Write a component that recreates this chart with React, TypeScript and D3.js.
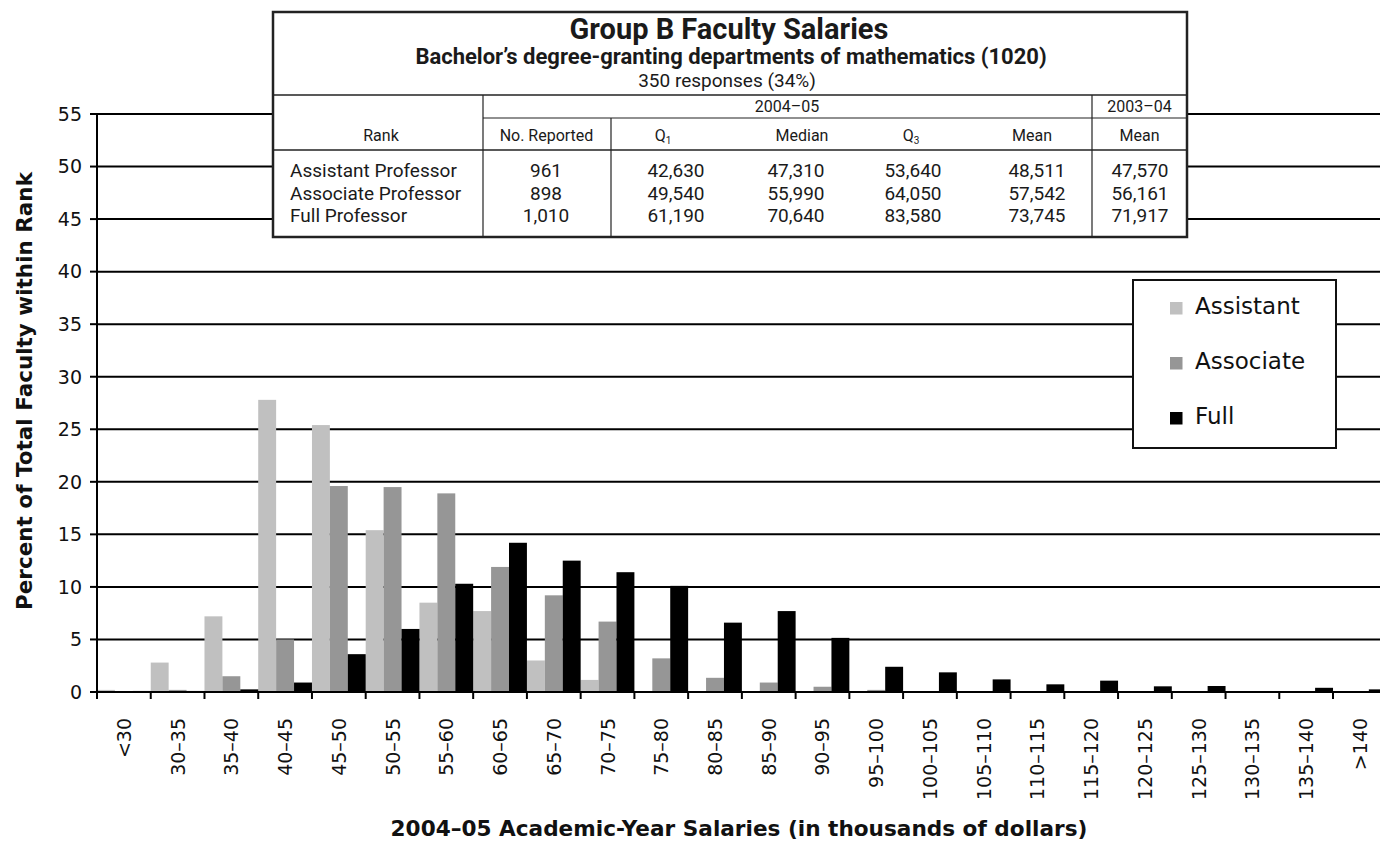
import React from 'react';
import * as d3 from 'd3';

const categories = ['<30', '30\u201335', '35\u201340', '40\u201345', '45\u201350', '50\u201355', '55\u201360', '60\u201365', '65\u201370', '70\u201375', '75\u201380', '80\u201385', '85\u201390', '90\u201395', '95\u2013100', '100\u2013105', '105\u2013110', '110\u2013115', '115\u2013120', '120\u2013125', '125\u2013130', '130\u2013135', '135\u2013140', '>140'];
const assistant = [0.2, 2.8, 7.2, 27.8, 25.4, 15.4, 8.5, 7.7, 3.0, 1.15, 0, 0, 0, 0, 0, 0, 0, 0, 0, 0, 0, 0, 0, 0];
const associate = [0, 0.2, 1.5, 5.0, 19.6, 19.5, 18.9, 11.9, 9.2, 6.7, 3.2, 1.35, 0.9, 0.5, 0.2, 0, 0, 0, 0, 0, 0, 0, 0, 0];
const full = [0.1, 0.1, 0.25, 0.9, 3.6, 6.0, 10.3, 14.2, 12.5, 11.4, 10.1, 6.6, 7.7, 5.15, 2.4, 1.87, 1.2, 0.73, 1.08, 0.54, 0.57, 0, 0.4, 0.25];
const seriesNames = ['Assistant', 'Associate', 'Full'];
const seriesColors = ['#c0c0c0', '#969696', '#000000'];
const yTicks = [0, 5, 10, 15, 20, 25, 30, 35, 40, 45, 50, 55];

const rankLabels = ['Assistant Professor', 'Associate Professor', 'Full Professor'];
const noReported = ['961', '898', '1,010'];
const q1 = ['42,630', '49,540', '61,190'];
const median = ['47,310', '55,990', '70,640'];
const q3 = ['53,640', '64,050', '83,580'];
const mean0405 = ['48,511', '57,542', '73,745'];
const mean0304 = ['47,570', '56,161', '71,917'];

const W = 1380;
const H = 841;
const X0 = 97;
const BAND = 53.74;

export default function App() {
  const x = d3.scaleBand<string>().domain(categories).range([X0, X0 + BAND * categories.length]).paddingInner(0).paddingOuter(0);
  const xs = d3.scaleBand<string>().domain(seriesNames).range([0, x.bandwidth()]).padding(0);
  const y = d3.scaleLinear().domain([0, 55]).range([692, 114]);
  const series = [assistant, associate, full];
  const chartFont = "'DejaVu Sans', Verdana, sans-serif";
  const tableFont = "Roboto, 'Liberation Sans', sans-serif";
  const txt = '#111';
  const dataCols = [noReported, q1, median, q3, mean0405, mean0304];
  const dataX = [546, 676, 796, 913, 1037, 1140];
  const rowY = [177, 199.5, 222];

  return (
    <svg width={W} height={H} style={{ position: 'absolute', left: 0, top: 0, background: '#fff' }}>
      <rect x={0} y={0} width={W} height={H} fill="#fff" />
      {/* gridlines */}
      {yTicks.filter(t => t > 0).map(t => (
        <line key={'g' + t} x1={X0} x2={W} y1={y(t)} y2={y(t)} stroke="#000" strokeWidth={2} />
      ))}
      {/* bars */}
      {series.map((vals, si) => (
        <g key={'s' + si} fill={seriesColors[si]}>
          {categories.map((c, i) => (
            vals[i] > 0 ? (
              <rect key={c} x={(x(c) as number) + (xs(seriesNames[si]) as number)} width={xs.bandwidth()}
                y={y(vals[i])} height={y(0) - y(vals[i])} />
            ) : null
          ))}
        </g>
      ))}
      {/* axes */}
      <line x1={X0} x2={X0} y1={y(55) - 1} y2={699} stroke="#000" strokeWidth={2} />
      <line x1={X0} x2={W} y1={y(0)} y2={y(0)} stroke="#000" strokeWidth={2} />
      {yTicks.map(t => (
        <g key={'yt' + t}>
          <line x1={90} x2={X0} y1={y(t)} y2={y(t)} stroke="#000" strokeWidth={2} />
          <text x={82} y={y(t)} dy="0.36em" textAnchor="end" fontFamily={chartFont} fontSize={19} fill={txt}>{t}</text>
        </g>
      ))}
      {categories.map((c, i) => (
        <line key={'xt' + i} x1={x(c) as number} x2={x(c) as number} y1={y(0)} y2={699} stroke="#000" strokeWidth={2} />
      ))}
      {categories.map(c => {
        const cx = (x(c) as number) + x.bandwidth() / 2 + 7;
        return (
          <text key={'xl' + c} transform={`translate(${cx},718) rotate(-90)`} textAnchor="end"
            fontFamily={chartFont} fontSize={19} fill={txt}>{c}</text>
        );
      })}
      <text transform="translate(31.5,391) rotate(-90)" textAnchor="middle" fontFamily={chartFont}
        fontWeight="bold" fontSize={21.5} fill={txt}>Percent of Total Faculty within Rank</text>
      <text x={739} y={836} textAnchor="middle" fontFamily={chartFont} fontWeight="bold" fontSize={21.6}
        fill={txt}>2004–05 Academic-Year Salaries (in thousands of dollars)</text>

      {/* legend */}
      <rect x={1133} y={280} width={203} height={168} fill="#fff" stroke="#111" strokeWidth={2} />
      {seriesNames.map((n, i) => (
        <g key={'lg' + n}>
          <rect x={1170} y={302 + i * 55} width={12.5} height={12.5} fill={seriesColors[i]} />
          <text x={1195} y={313.5 + i * 55} fontFamily={chartFont} fontSize={23} fill={txt}>{n}</text>
        </g>
      ))}

      {/* table */}
      <g fontFamily={tableFont} fill="#1a1a1a">
        <rect x={273} y={12} width={914} height={225} fill="#fff" stroke="#222" strokeWidth={2.5} />
        <line x1={273} x2={1187} y1={95} y2={95} stroke="#222" strokeWidth={1.5} />
        <line x1={483} x2={1187} y1={118} y2={118} stroke="#222" strokeWidth={1.2} />
        <line x1={273} x2={1187} y1={150} y2={150} stroke="#222" strokeWidth={1.5} />
        <line x1={483} x2={483} y1={95} y2={237} stroke="#222" strokeWidth={1.2} />
        <line x1={611} x2={611} y1={118} y2={237} stroke="#222" strokeWidth={1.2} />
        <line x1={1092} x2={1092} y1={95} y2={237} stroke="#222" strokeWidth={1.2} />
        <text x={729} y={39} textAnchor="middle" fontWeight="bold" fontSize={29}>Group B Faculty Salaries</text>
        <text x={731} y={64} textAnchor="middle" fontWeight="bold" fontSize={22}>Bachelor’s degree-granting departments of mathematics (1020)</text>
        <text x={727} y={87} textAnchor="middle" fontSize={19}>350 responses (34%)</text>
        <text x={787} y={112} textAnchor="middle" fontSize={16}>2004–05</text>
        <text x={1139.5} y={112} textAnchor="middle" fontSize={16}>2003–04</text>
        <text x={381} y={141} textAnchor="middle" fontSize={16}>Rank</text>
        <text x={546.5} y={141} textAnchor="middle" fontSize={16}>No. Reported</text>
        <text x={663} y={141} textAnchor="middle" fontSize={16}>Q<tspan fontSize={10} dy={3}>1</tspan></text>
        <text x={802} y={141} textAnchor="middle" fontSize={16}>Median</text>
        <text x={911} y={141} textAnchor="middle" fontSize={16}>Q<tspan fontSize={10} dy={3}>3</tspan></text>
        <text x={1032} y={141} textAnchor="middle" fontSize={16}>Mean</text>
        <text x={1139.5} y={141} textAnchor="middle" fontSize={16}>Mean</text>
        {rankLabels.map((r, i) => (
          <text key={'rl' + i} x={290} y={rowY[i]} fontSize={19}>{r}</text>
        ))}
        {dataCols.map((col, ci) => col.map((v, ri) => (
          <text key={'d' + ci + '-' + ri} x={dataX[ci]} y={rowY[ri]} textAnchor="middle" fontSize={19}>{v}</text>
        )))}
      </g>
    </svg>
  );
}
